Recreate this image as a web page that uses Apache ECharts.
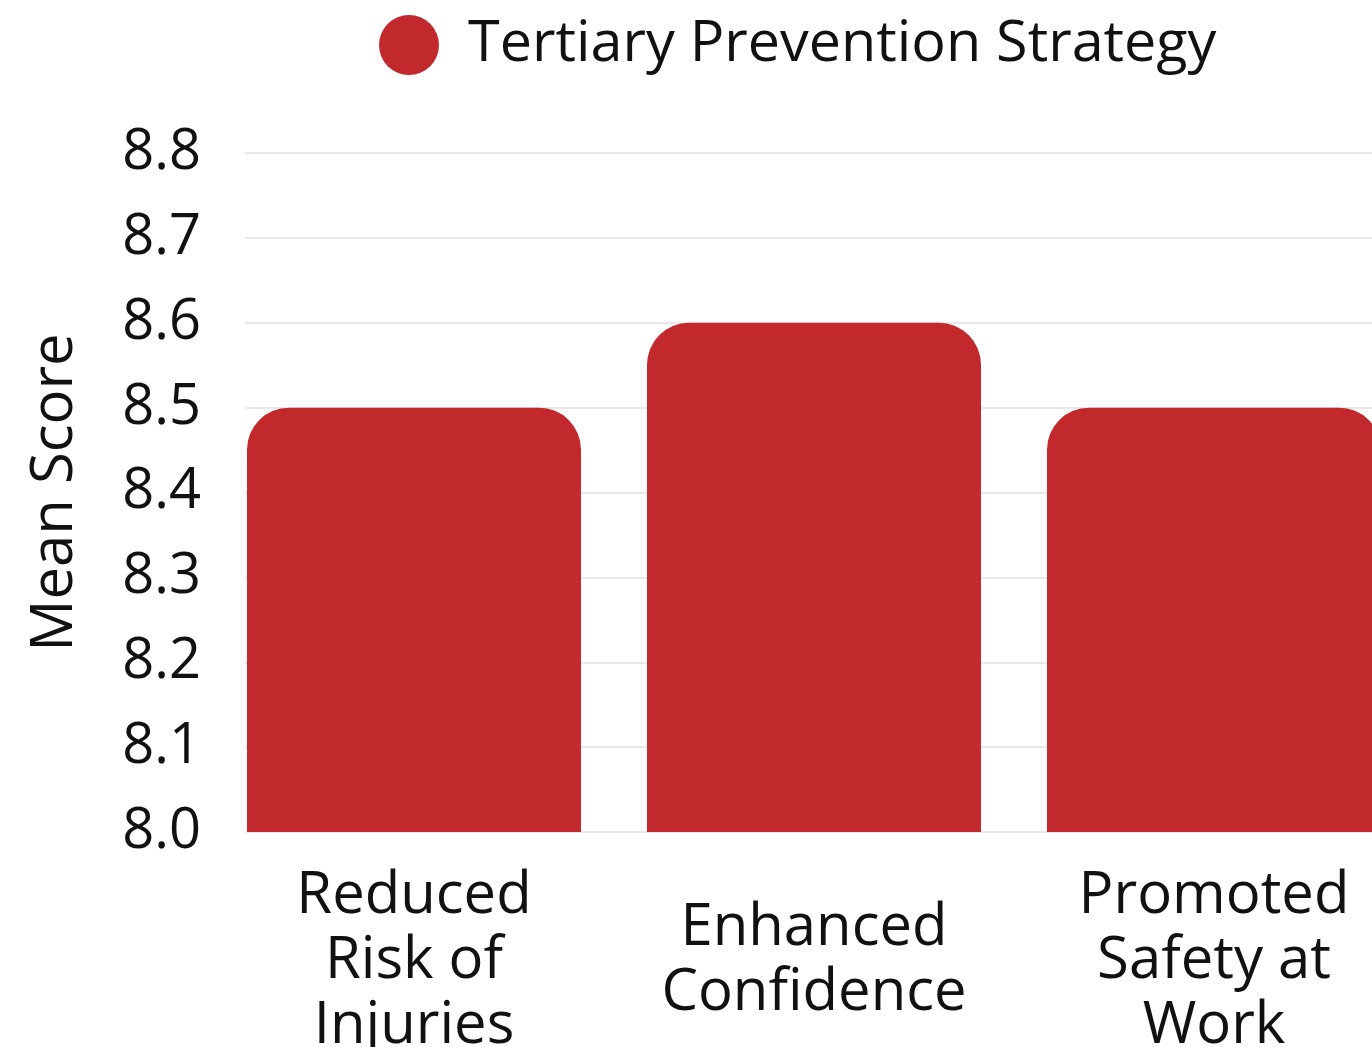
<!DOCTYPE html>
<html>
<head>
<meta charset="utf-8">
<style>
  html, body { margin: 0; padding: 0; background: #ffffff; }
  #chart { width: 1372px; height: 1047px; }
</style>
<script src="https://cdn.jsdelivr.net/npm/echarts@6/dist/echarts.min.js"></script>
</head>
<body>
<div id="chart"></div>
<script>
const categories = ['Reduced\nRisk of\nInjuries', 'Enhanced\nConfidence', 'Promoted\nSafety at\nWork'];
const seriesName = 'Tertiary Prevention Strategy';
const meanScores = [8.5, 8.6, 8.5];
const yAxisTitle = 'Mean Score';
const yMin = 8.0, yMax = 8.8, yStep = 0.1;

const chart = echarts.init(document.getElementById('chart'));
const FONT = 'Open Sans';
chart.setOption({
  animation: false,
  backgroundColor: '#ffffff',
  textStyle: { fontFamily: FONT },
  legend: {
    left: 374,
    top: 10,
    icon: 'circle',
    itemWidth: 60,
    itemHeight: 60,
    textStyle: { fontSize: 57.5, color: '#111111', fontFamily: FONT, padding: [0, 0, 0, 24] },
    data: [seriesName]
  },
  grid: [
    { left: 214, right: -42, top: 153, bottom: 215, containLabel: false, outerBoundsMode: 'none' },
    { left: 245, right: 0, top: 153, bottom: 215, containLabel: false, outerBoundsMode: 'none' }
  ],
  xAxis: [{
    type: 'category',
    gridIndex: 0,
    data: categories,
    axisLine: { show: false },
    axisTick: { show: false },
    axisLabel: {
      interval: 0,
      fontSize: 58,
      lineHeight: 65,
      color: '#111111',
      fontFamily: FONT,
      verticalAlign: 'middle',
      margin: 129
    }
  }, {
    type: 'category',
    gridIndex: 1,
    data: categories,
    show: false
  }],
  yAxis: [{
    type: 'value',
    gridIndex: 0,
    min: yMin,
    max: yMax,
    interval: yStep,
    name: yAxisTitle,
    nameLocation: 'middle',
    nameGap: 130,
    nameTextStyle: { fontSize: 58, color: '#111111', fontFamily: FONT },
    axisLine: { show: false },
    axisTick: { show: false },
    axisLabel: {
      fontSize: 56,
      color: '#111111',
      fontFamily: FONT,
      margin: 13,
      formatter: v => v.toFixed(1)
    },
    splitLine: { show: false }
  }, {
    type: 'value',
    gridIndex: 1,
    min: yMin,
    max: yMax,
    interval: yStep,
    axisLine: { show: false },
    axisTick: { show: false },
    axisLabel: { show: false },
    splitLine: { show: true, lineStyle: { color: '#e8e8e8', width: 2 } }
  }],
  series: [{
    name: seriesName,
    type: 'bar',
    xAxisIndex: 0,
    yAxisIndex: 0,
    data: meanScores,
    barWidth: '83.5%',
    itemStyle: { color: '#C1292C', borderRadius: [42, 42, 0, 0] }
  }]
});
</script>
</body>
</html>
